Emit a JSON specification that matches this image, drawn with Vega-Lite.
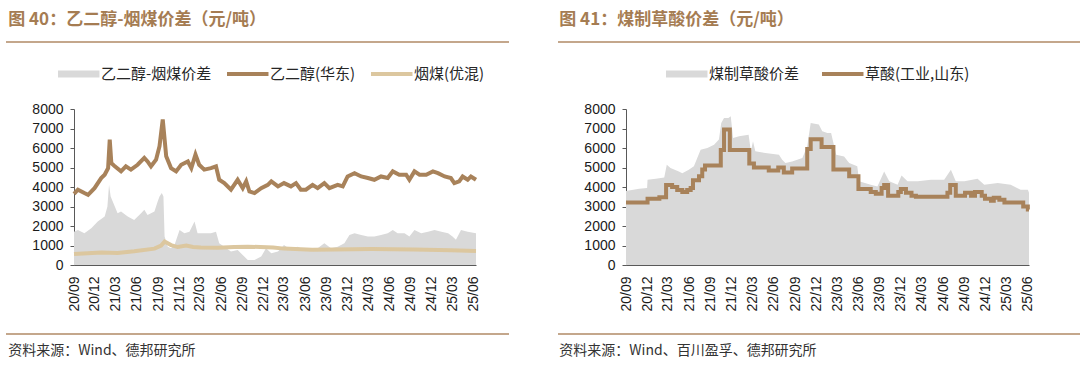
{
  "$schema": "https://vega.github.io/schema/vega-lite/v6.json",
  "padding": {"left": 5, "top": 11, "right": 0, "bottom": 0},
  "background": "white",
  "config": {
    "view": {"stroke": null},
    "font": "Noto Sans CJK SC",
    "axis": {"labelFont": "Liberation Sans", "labelFontSize": 14, "labelColor": "#1a1a1a", "domainColor": "#595959", "tickColor": "#595959", "grid": false, "title": null, "labelOverlap": false}
  },
  "resolve": {"scale": {"color": "independent"}, "legend": {"color": "independent"}},
  "datasets": {
    "linesL": [
      {"d": "2020-09-01", "v": 3650, "s": "乙二醇(华东)"},
      {"d": "2020-09-18", "v": 3860, "s": "乙二醇(华东)"},
      {"d": "2020-10-16", "v": 3690, "s": "乙二醇(华东)"},
      {"d": "2020-11-01", "v": 3600, "s": "乙二醇(华东)"},
      {"d": "2020-11-29", "v": 3940, "s": "乙二醇(华东)"},
      {"d": "2020-12-28", "v": 4460, "s": "乙二醇(华东)"},
      {"d": "2021-01-12", "v": 4630, "s": "乙二醇(华东)"},
      {"d": "2021-01-27", "v": 4970, "s": "乙二醇(华东)"},
      {"d": "2021-02-03", "v": 6430, "s": "乙二醇(华东)"},
      {"d": "2021-02-10", "v": 5230, "s": "乙二醇(华东)"},
      {"d": "2021-02-25", "v": 5060, "s": "乙二醇(华东)"},
      {"d": "2021-03-24", "v": 4800, "s": "乙二醇(华东)"},
      {"d": "2021-04-14", "v": 5060, "s": "乙二醇(华东)"},
      {"d": "2021-05-06", "v": 4890, "s": "乙二醇(华东)"},
      {"d": "2021-06-04", "v": 5140, "s": "乙二醇(华东)"},
      {"d": "2021-07-03", "v": 5490, "s": "乙二醇(华东)"},
      {"d": "2021-07-17", "v": 5310, "s": "乙二醇(华东)"},
      {"d": "2021-08-01", "v": 5060, "s": "乙二醇(华东)"},
      {"d": "2021-08-23", "v": 5400, "s": "乙二醇(华东)"},
      {"d": "2021-09-07", "v": 6090, "s": "乙二醇(华东)"},
      {"d": "2021-09-21", "v": 7460, "s": "乙二醇(华东)"},
      {"d": "2021-10-06", "v": 5570, "s": "乙二醇(华东)"},
      {"d": "2021-10-27", "v": 4970, "s": "乙二醇(华东)"},
      {"d": "2021-11-18", "v": 4800, "s": "乙二醇(华东)"},
      {"d": "2021-12-10", "v": 5140, "s": "乙二醇(华东)"},
      {"d": "2022-01-08", "v": 5310, "s": "乙二醇(华东)"},
      {"d": "2022-01-23", "v": 4970, "s": "乙二醇(华东)"},
      {"d": "2022-02-10", "v": 5660, "s": "乙二醇(华东)"},
      {"d": "2022-02-26", "v": 5140, "s": "乙二醇(华东)"},
      {"d": "2022-03-20", "v": 4890, "s": "乙二醇(华东)"},
      {"d": "2022-04-18", "v": 4970, "s": "乙二醇(华东)"},
      {"d": "2022-05-10", "v": 5060, "s": "乙二醇(华东)"},
      {"d": "2022-05-24", "v": 4370, "s": "乙二醇(华东)"},
      {"d": "2022-06-15", "v": 4200, "s": "乙二醇(华东)"},
      {"d": "2022-07-14", "v": 3860, "s": "乙二醇(华东)"},
      {"d": "2022-08-12", "v": 4370, "s": "乙二醇(华东)"},
      {"d": "2022-09-03", "v": 3940, "s": "乙二醇(华东)"},
      {"d": "2022-09-18", "v": 4290, "s": "乙二醇(华东)"},
      {"d": "2022-10-02", "v": 3770, "s": "乙二醇(华东)"},
      {"d": "2022-10-24", "v": 3690, "s": "乙二醇(华东)"},
      {"d": "2022-11-22", "v": 3940, "s": "乙二醇(华东)"},
      {"d": "2022-12-21", "v": 4110, "s": "乙二醇(华东)"},
      {"d": "2023-01-05", "v": 4290, "s": "乙二醇(华东)"},
      {"d": "2023-02-03", "v": 4030, "s": "乙二醇(华东)"},
      {"d": "2023-03-01", "v": 4200, "s": "乙二醇(华东)"},
      {"d": "2023-03-31", "v": 4030, "s": "乙二醇(华东)"},
      {"d": "2023-04-22", "v": 4200, "s": "乙二醇(华东)"},
      {"d": "2023-05-13", "v": 3860, "s": "乙二醇(华东)"},
      {"d": "2023-06-04", "v": 3860, "s": "乙二醇(华东)"},
      {"d": "2023-07-03", "v": 4110, "s": "乙二醇(华东)"},
      {"d": "2023-07-25", "v": 3940, "s": "乙二醇(华东)"},
      {"d": "2023-08-23", "v": 4200, "s": "乙二醇(华东)"},
      {"d": "2023-09-14", "v": 3940, "s": "乙二醇(华东)"},
      {"d": "2023-10-20", "v": 4110, "s": "乙二醇(华东)"},
      {"d": "2023-11-11", "v": 4030, "s": "乙二醇(华东)"},
      {"d": "2023-12-02", "v": 4540, "s": "乙二醇(华东)"},
      {"d": "2024-01-01", "v": 4710, "s": "乙二醇(华东)"},
      {"d": "2024-01-30", "v": 4540, "s": "乙二醇(华东)"},
      {"d": "2024-02-28", "v": 4460, "s": "乙二醇(华东)"},
      {"d": "2024-03-27", "v": 4370, "s": "乙二醇(华东)"},
      {"d": "2024-04-25", "v": 4540, "s": "乙二醇(华东)"},
      {"d": "2024-05-24", "v": 4460, "s": "乙二醇(华东)"},
      {"d": "2024-06-15", "v": 4800, "s": "乙二醇(华东)"},
      {"d": "2024-07-13", "v": 4630, "s": "乙二醇(华东)"},
      {"d": "2024-08-12", "v": 4630, "s": "乙二醇(华东)"},
      {"d": "2024-08-26", "v": 4370, "s": "乙二醇(华东)"},
      {"d": "2024-09-17", "v": 4800, "s": "乙二醇(华东)"},
      {"d": "2024-10-09", "v": 4630, "s": "乙二醇(华东)"},
      {"d": "2024-11-07", "v": 4630, "s": "乙二醇(华东)"},
      {"d": "2024-12-06", "v": 4800, "s": "乙二醇(华东)"},
      {"d": "2024-12-28", "v": 4710, "s": "乙二醇(华东)"},
      {"d": "2025-01-26", "v": 4540, "s": "乙二醇(华东)"},
      {"d": "2025-02-22", "v": 4460, "s": "乙二醇(华东)"},
      {"d": "2025-03-09", "v": 4200, "s": "乙二醇(华东)"},
      {"d": "2025-03-30", "v": 4290, "s": "乙二醇(华东)"},
      {"d": "2025-04-14", "v": 4540, "s": "乙二醇(华东)"},
      {"d": "2025-05-06", "v": 4370, "s": "乙二醇(华东)"},
      {"d": "2025-05-20", "v": 4540, "s": "乙二醇(华东)"},
      {"d": "2025-06-11", "v": 4370, "s": "乙二醇(华东)"},
      {"d": "2020-09-01", "v": 560, "s": "烟煤(优混)"},
      {"d": "2020-12-28", "v": 640, "s": "烟煤(优混)"},
      {"d": "2021-03-09", "v": 620, "s": "烟煤(优混)"},
      {"d": "2021-05-20", "v": 700, "s": "烟煤(优混)"},
      {"d": "2021-08-16", "v": 840, "s": "烟煤(优混)"},
      {"d": "2021-09-14", "v": 1000, "s": "烟煤(优混)"},
      {"d": "2021-09-29", "v": 1200, "s": "烟煤(优混)"},
      {"d": "2021-10-27", "v": 1020, "s": "烟煤(优混)"},
      {"d": "2021-11-25", "v": 920, "s": "烟煤(优混)"},
      {"d": "2022-01-01", "v": 1000, "s": "烟煤(优混)"},
      {"d": "2022-01-30", "v": 920, "s": "烟煤(优混)"},
      {"d": "2022-03-05", "v": 900, "s": "烟煤(优混)"},
      {"d": "2022-05-17", "v": 880, "s": "烟煤(优混)"},
      {"d": "2022-07-28", "v": 920, "s": "烟煤(优混)"},
      {"d": "2022-09-25", "v": 940, "s": "烟煤(优混)"},
      {"d": "2023-01-13", "v": 900, "s": "烟煤(优混)"},
      {"d": "2023-03-01", "v": 840, "s": "烟煤(优混)"},
      {"d": "2023-07-01", "v": 780, "s": "烟煤(优混)"},
      {"d": "2023-10-05", "v": 800, "s": "烟煤(优混)"},
      {"d": "2024-03-15", "v": 820, "s": "烟煤(优混)"},
      {"d": "2024-09-15", "v": 800, "s": "烟煤(优混)"},
      {"d": "2025-02-22", "v": 760, "s": "烟煤(优混)"},
      {"d": "2025-06-11", "v": 720, "s": "烟煤(优混)"}
    ],
    "spreadL": [
      {"d": "2020-09-01", "v": 1710, "s": "乙二醇-烟煤价差"},
      {"d": "2020-09-18", "v": 1800, "s": "乙二醇-烟煤价差"},
      {"d": "2020-10-16", "v": 1630, "s": "乙二醇-烟煤价差"},
      {"d": "2020-11-15", "v": 1890, "s": "乙二醇-烟煤价差"},
      {"d": "2020-12-13", "v": 2230, "s": "乙二醇-烟煤价差"},
      {"d": "2021-01-12", "v": 2490, "s": "乙二醇-烟煤价差"},
      {"d": "2021-01-24", "v": 3000, "s": "乙二醇-烟煤价差"},
      {"d": "2021-01-31", "v": 4110, "s": "乙二醇-烟煤价差"},
      {"d": "2021-02-07", "v": 3510, "s": "乙二醇-烟煤价差"},
      {"d": "2021-02-25", "v": 3000, "s": "乙二醇-烟煤价差"},
      {"d": "2021-03-09", "v": 2660, "s": "乙二醇-烟煤价差"},
      {"d": "2021-03-24", "v": 2740, "s": "乙二醇-烟煤价差"},
      {"d": "2021-04-22", "v": 2490, "s": "乙二醇-烟煤价差"},
      {"d": "2021-05-20", "v": 2310, "s": "乙二醇-烟煤价差"},
      {"d": "2021-06-19", "v": 2660, "s": "乙二醇-烟煤价差"},
      {"d": "2021-07-03", "v": 2830, "s": "乙二醇-烟煤价差"},
      {"d": "2021-07-17", "v": 2570, "s": "乙二醇-烟煤价差"},
      {"d": "2021-08-16", "v": 2740, "s": "乙二醇-烟煤价差"},
      {"d": "2021-08-30", "v": 3260, "s": "乙二醇-烟煤价差"},
      {"d": "2021-09-07", "v": 3510, "s": "乙二醇-烟煤价差"},
      {"d": "2021-09-17", "v": 3690, "s": "乙二醇-烟煤价差"},
      {"d": "2021-09-24", "v": 3510, "s": "乙二醇-烟煤价差"},
      {"d": "2021-09-29", "v": 1460, "s": "乙二醇-烟煤价差"},
      {"d": "2021-10-13", "v": 940, "s": "乙二醇-烟煤价差"},
      {"d": "2021-10-27", "v": 860, "s": "乙二醇-烟煤价差"},
      {"d": "2021-11-11", "v": 1030, "s": "乙二醇-烟煤价差"},
      {"d": "2021-12-03", "v": 1800, "s": "乙二醇-烟煤价差"},
      {"d": "2021-12-24", "v": 1630, "s": "乙二醇-烟煤价差"},
      {"d": "2022-01-15", "v": 1710, "s": "乙二醇-烟煤价差"},
      {"d": "2022-02-06", "v": 2230, "s": "乙二醇-烟煤价差"},
      {"d": "2022-02-19", "v": 1630, "s": "乙二醇-烟煤价差"},
      {"d": "2022-03-20", "v": 1630, "s": "乙二醇-烟煤价差"},
      {"d": "2022-04-18", "v": 1630, "s": "乙二醇-烟煤价差"},
      {"d": "2022-05-10", "v": 1710, "s": "乙二醇-烟煤价差"},
      {"d": "2022-05-24", "v": 1110, "s": "乙二醇-烟煤价差"},
      {"d": "2022-06-15", "v": 940, "s": "乙二醇-烟煤价差"},
      {"d": "2022-07-14", "v": 690, "s": "乙二醇-烟煤价差"},
      {"d": "2022-08-12", "v": 770, "s": "乙二醇-烟煤价差"},
      {"d": "2022-09-03", "v": 510, "s": "乙二醇-烟煤价差"},
      {"d": "2022-09-25", "v": 260, "s": "乙二醇-烟煤价差"},
      {"d": "2022-10-24", "v": 260, "s": "乙二醇-烟煤价差"},
      {"d": "2022-11-22", "v": 430, "s": "乙二醇-烟煤价差"},
      {"d": "2022-12-13", "v": 860, "s": "乙二醇-烟煤价差"},
      {"d": "2023-01-05", "v": 600, "s": "乙二醇-烟煤价差"},
      {"d": "2023-02-03", "v": 690, "s": "乙二醇-烟煤价差"},
      {"d": "2023-03-01", "v": 1030, "s": "乙二醇-烟煤价差"},
      {"d": "2023-03-31", "v": 770, "s": "乙二醇-烟煤价差"},
      {"d": "2023-04-29", "v": 940, "s": "乙二醇-烟煤价差"},
      {"d": "2023-05-27", "v": 770, "s": "乙二醇-烟煤价差"},
      {"d": "2023-06-26", "v": 770, "s": "乙二醇-烟煤价差"},
      {"d": "2023-07-25", "v": 860, "s": "乙二醇-烟煤价差"},
      {"d": "2023-08-23", "v": 1110, "s": "乙二醇-烟煤价差"},
      {"d": "2023-09-21", "v": 860, "s": "乙二醇-烟煤价差"},
      {"d": "2023-10-20", "v": 940, "s": "乙二醇-烟煤价差"},
      {"d": "2023-11-18", "v": 1110, "s": "乙二醇-烟煤价差"},
      {"d": "2023-12-10", "v": 1540, "s": "乙二醇-烟煤价差"},
      {"d": "2024-01-01", "v": 1630, "s": "乙二醇-烟煤价差"},
      {"d": "2024-01-30", "v": 1540, "s": "乙二醇-烟煤价差"},
      {"d": "2024-02-28", "v": 1460, "s": "乙二醇-烟煤价差"},
      {"d": "2024-03-27", "v": 1460, "s": "乙二醇-烟煤价差"},
      {"d": "2024-04-25", "v": 1540, "s": "乙二醇-烟煤价差"},
      {"d": "2024-05-24", "v": 1630, "s": "乙二醇-烟煤价差"},
      {"d": "2024-06-15", "v": 1800, "s": "乙二醇-烟煤价差"},
      {"d": "2024-07-06", "v": 1630, "s": "乙二醇-烟煤价差"},
      {"d": "2024-08-05", "v": 1630, "s": "乙二醇-烟煤价差"},
      {"d": "2024-08-26", "v": 1460, "s": "乙二醇-烟煤价差"},
      {"d": "2024-09-17", "v": 1800, "s": "乙二醇-烟煤价差"},
      {"d": "2024-10-16", "v": 1630, "s": "乙二醇-烟煤价差"},
      {"d": "2024-11-15", "v": 1710, "s": "乙二醇-烟煤价差"},
      {"d": "2024-12-13", "v": 1800, "s": "乙二醇-烟煤价差"},
      {"d": "2025-01-12", "v": 1710, "s": "乙二醇-烟煤价差"},
      {"d": "2025-02-10", "v": 1630, "s": "乙二醇-烟煤价差"},
      {"d": "2025-03-01", "v": 1460, "s": "乙二醇-烟煤价差"},
      {"d": "2025-03-16", "v": 1290, "s": "乙二醇-烟煤价差"},
      {"d": "2025-04-07", "v": 1800, "s": "乙二醇-烟煤价差"},
      {"d": "2025-05-06", "v": 1710, "s": "乙二醇-烟煤价差"},
      {"d": "2025-06-11", "v": 1630, "s": "乙二醇-烟煤价差"}
    ],
    "lineR": [
      {"d": "2020-09-01", "v": 3200, "s": "草酸(工业,山东)"},
      {"d": "2020-12-03", "v": 3400, "s": "草酸(工业,山东)"},
      {"d": "2021-01-23", "v": 3480, "s": "草酸(工业,山东)"},
      {"d": "2021-02-21", "v": 4100, "s": "草酸(工业,山东)"},
      {"d": "2021-03-19", "v": 4000, "s": "草酸(工业,山东)"},
      {"d": "2021-04-10", "v": 3850, "s": "草酸(工业,山东)"},
      {"d": "2021-05-02", "v": 3750, "s": "草酸(工业,山东)"},
      {"d": "2021-05-23", "v": 3850, "s": "草酸(工业,山东)"},
      {"d": "2021-06-07", "v": 3950, "s": "草酸(工业,山东)"},
      {"d": "2021-06-17", "v": 4350, "s": "草酸(工业,山东)"},
      {"d": "2021-07-13", "v": 4550, "s": "草酸(工业,山东)"},
      {"d": "2021-07-27", "v": 4900, "s": "草酸(工业,山东)"},
      {"d": "2021-08-08", "v": 5100, "s": "草酸(工业,山东)"},
      {"d": "2021-10-15", "v": 5900, "s": "草酸(工业,山东)"},
      {"d": "2021-10-29", "v": 6950, "s": "草酸(工业,山东)"},
      {"d": "2021-11-23", "v": 5900, "s": "草酸(工业,山东)"},
      {"d": "2022-02-15", "v": 5200, "s": "草酸(工业,山东)"},
      {"d": "2022-03-07", "v": 5000, "s": "草酸(工业,山东)"},
      {"d": "2022-05-10", "v": 4850, "s": "草酸(工业,山东)"},
      {"d": "2022-06-20", "v": 5000, "s": "草酸(工业,山东)"},
      {"d": "2022-07-14", "v": 4750, "s": "草酸(工业,山东)"},
      {"d": "2022-08-19", "v": 4950, "s": "草酸(工业,山东)"},
      {"d": "2022-10-23", "v": 5950, "s": "草酸(工业,山东)"},
      {"d": "2022-11-07", "v": 6450, "s": "草酸(工业,山东)"},
      {"d": "2022-12-24", "v": 6050, "s": "草酸(工业,山东)"},
      {"d": "2023-02-13", "v": 4900, "s": "草酸(工业,山东)"},
      {"d": "2023-04-22", "v": 4550, "s": "草酸(工业,山东)"},
      {"d": "2023-06-01", "v": 3900, "s": "草酸(工业,山东)"},
      {"d": "2023-07-24", "v": 3750, "s": "草酸(工业,山东)"},
      {"d": "2023-08-15", "v": 3650, "s": "草酸(工业,山东)"},
      {"d": "2023-09-09", "v": 3950, "s": "草酸(工业,山东)"},
      {"d": "2023-09-20", "v": 4100, "s": "草酸(工业,山东)"},
      {"d": "2023-10-07", "v": 3550, "s": "草酸(工业,山东)"},
      {"d": "2023-11-20", "v": 3750, "s": "草酸(工业,山东)"},
      {"d": "2023-12-01", "v": 3900, "s": "草酸(工业,山东)"},
      {"d": "2023-12-23", "v": 3700, "s": "草酸(工业,山东)"},
      {"d": "2024-01-16", "v": 3550, "s": "草酸(工业,山东)"},
      {"d": "2024-02-04", "v": 3500, "s": "草酸(工业,山东)"},
      {"d": "2024-06-19", "v": 3700, "s": "草酸(工业,山东)"},
      {"d": "2024-07-01", "v": 4100, "s": "草酸(工业,山东)"},
      {"d": "2024-07-25", "v": 3550, "s": "草酸(工业,山东)"},
      {"d": "2024-09-03", "v": 3700, "s": "草酸(工业,山东)"},
      {"d": "2024-09-29", "v": 3550, "s": "草酸(工业,山东)"},
      {"d": "2024-10-16", "v": 3750, "s": "草酸(工业,山东)"},
      {"d": "2024-11-14", "v": 3550, "s": "草酸(工业,山东)"},
      {"d": "2024-11-28", "v": 3400, "s": "草酸(工业,山东)"},
      {"d": "2024-12-24", "v": 3300, "s": "草酸(工业,山东)"},
      {"d": "2025-01-05", "v": 3450, "s": "草酸(工业,山东)"},
      {"d": "2025-01-29", "v": 3350, "s": "草酸(工业,山东)"},
      {"d": "2025-02-20", "v": 3200, "s": "草酸(工业,山东)"},
      {"d": "2025-05-12", "v": 3000, "s": "草酸(工业,山东)"},
      {"d": "2025-06-01", "v": 2850, "s": "草酸(工业,山东)"},
      {"d": "2025-06-06", "v": 2850, "s": "草酸(工业,山东)"}
    ],
    "spreadR": [
      {"d": "2020-09-01", "v": 3800, "s": "煤制草酸价差"},
      {"d": "2020-10-28", "v": 3910, "s": "煤制草酸价差"},
      {"d": "2020-12-01", "v": 3950, "s": "煤制草酸价差"},
      {"d": "2020-12-03", "v": 4370, "s": "煤制草酸价差"},
      {"d": "2021-01-08", "v": 4420, "s": "煤制草酸价差"},
      {"d": "2021-02-13", "v": 4490, "s": "煤制草酸价差"},
      {"d": "2021-02-24", "v": 5140, "s": "煤制草酸价差"},
      {"d": "2021-03-12", "v": 4970, "s": "煤制草酸价差"},
      {"d": "2021-04-17", "v": 4800, "s": "煤制草酸价差"},
      {"d": "2021-05-02", "v": 4710, "s": "煤制草酸价差"},
      {"d": "2021-05-30", "v": 4880, "s": "煤制草酸价差"},
      {"d": "2021-06-21", "v": 5060, "s": "煤制草酸价差"},
      {"d": "2021-07-20", "v": 5910, "s": "煤制草酸价差"},
      {"d": "2021-08-18", "v": 6000, "s": "煤制草酸价差"},
      {"d": "2021-09-16", "v": 6170, "s": "煤制草酸价差"},
      {"d": "2021-10-07", "v": 6430, "s": "煤制草酸价差"},
      {"d": "2021-10-17", "v": 7280, "s": "煤制草酸价差"},
      {"d": "2021-10-29", "v": 7540, "s": "煤制草酸价差"},
      {"d": "2021-11-17", "v": 7540, "s": "煤制草酸价差"},
      {"d": "2021-11-27", "v": 7630, "s": "煤制草酸价差"},
      {"d": "2021-12-07", "v": 6510, "s": "煤制草酸价差"},
      {"d": "2022-01-02", "v": 6600, "s": "煤制草酸价差"},
      {"d": "2022-02-12", "v": 6680, "s": "煤制草酸价差"},
      {"d": "2022-02-22", "v": 5830, "s": "煤制草酸价差"},
      {"d": "2022-03-03", "v": 6340, "s": "煤制草酸价差"},
      {"d": "2022-03-13", "v": 5830, "s": "煤制草酸价差"},
      {"d": "2022-04-26", "v": 5740, "s": "煤制草酸价差"},
      {"d": "2022-06-23", "v": 5660, "s": "煤制草酸价差"},
      {"d": "2022-07-07", "v": 5400, "s": "煤制草酸价差"},
      {"d": "2022-07-21", "v": 5230, "s": "煤制草酸价差"},
      {"d": "2022-08-19", "v": 5310, "s": "煤制草酸价差"},
      {"d": "2022-10-02", "v": 5490, "s": "煤制草酸价差"},
      {"d": "2022-10-23", "v": 6090, "s": "煤制草酸价差"},
      {"d": "2022-11-07", "v": 7280, "s": "煤制草酸价差"},
      {"d": "2022-12-12", "v": 7200, "s": "煤制草酸价差"},
      {"d": "2022-12-27", "v": 6860, "s": "煤制草酸价差"},
      {"d": "2023-01-18", "v": 6770, "s": "煤制草酸价差"},
      {"d": "2023-02-03", "v": 6770, "s": "煤制草酸价差"},
      {"d": "2023-02-25", "v": 5660, "s": "煤制草酸价差"},
      {"d": "2023-03-31", "v": 5570, "s": "煤制草酸价差"},
      {"d": "2023-04-22", "v": 5230, "s": "煤制草酸价差"},
      {"d": "2023-05-27", "v": 5060, "s": "煤制草酸价差"},
      {"d": "2023-06-04", "v": 4290, "s": "煤制草酸价差"},
      {"d": "2023-07-24", "v": 4110, "s": "煤制草酸价差"},
      {"d": "2023-08-22", "v": 4030, "s": "煤制草酸价差"},
      {"d": "2023-09-20", "v": 4800, "s": "煤制草酸价差"},
      {"d": "2023-10-12", "v": 4290, "s": "煤制草酸价差"},
      {"d": "2023-11-17", "v": 4110, "s": "煤制草酸价差"},
      {"d": "2023-12-04", "v": 4590, "s": "煤制草酸价差"},
      {"d": "2023-12-30", "v": 4290, "s": "煤制草酸价差"},
      {"d": "2024-02-12", "v": 4290, "s": "煤制草酸价差"},
      {"d": "2024-04-09", "v": 4370, "s": "煤制草酸价差"},
      {"d": "2024-06-05", "v": 4370, "s": "煤制草酸价差"},
      {"d": "2024-07-04", "v": 4880, "s": "煤制草酸价差"},
      {"d": "2024-07-25", "v": 4290, "s": "煤制草酸价差"},
      {"d": "2024-08-31", "v": 4290, "s": "煤制草酸价差"},
      {"d": "2024-10-27", "v": 4420, "s": "煤制草酸价差"},
      {"d": "2024-11-25", "v": 4110, "s": "煤制草酸价差"},
      {"d": "2025-01-22", "v": 4200, "s": "煤制草酸价差"},
      {"d": "2025-03-19", "v": 4110, "s": "煤制草酸价差"},
      {"d": "2025-05-01", "v": 3860, "s": "煤制草酸价差"},
      {"d": "2025-06-01", "v": 3860, "s": "煤制草酸价差"},
      {"d": "2025-06-06", "v": 3700, "s": "煤制草酸价差"}
    ]
  },
  "spacing": 47,
  "hconcat": [
    {
      "spacing": 10,
      "resolve": {"scale": {"color": "independent"}, "legend": {"color": "independent"}},
      "vconcat": [
        {
          "width": 402, "height": 12,
          "title": {"text": "图 40：乙二醇-烟煤价差（元/吨）", "anchor": "start", "fontSize": 17, "fontWeight": "bold", "color": "#a57c52", "offset": 12, "dx": 3, "font": "Noto Sans CJK SC"},
          "data": {"values": [{}]},
          "mark": {"type": "rule", "color": "#b08a66", "strokeWidth": 1.5},
          "encoding": {
            "x": {"datum": -0.1692, "type": "quantitative", "scale": {"domain": [0, 1]}, "axis": null},
            "x2": {"datum": 1.0821},
            "y": {"datum": 1, "type": "quantitative", "scale": {"domain": [0, 1]}, "axis": null}
          }
        },
        {
          "width": 402, "height": 156,
          "encoding": {
            "x": {"field": "d", "type": "temporal", "scale": {"type": "utc", "domain": [{"year": 2020, "month": 9, "date": 1, "utc": true}, {"year": 2025, "month": 6, "date": 11, "utc": true}]},
              "axis": {"values": [{"year": 2020, "month": 9, "date": 1, "utc": true}, {"year": 2020, "month": 12, "date": 1, "utc": true}, {"year": 2021, "month": 3, "date": 1, "utc": true}, {"year": 2021, "month": 6, "date": 1, "utc": true}, {"year": 2021, "month": 9, "date": 1, "utc": true}, {"year": 2021, "month": 12, "date": 1, "utc": true}, {"year": 2022, "month": 3, "date": 1, "utc": true}, {"year": 2022, "month": 6, "date": 1, "utc": true}, {"year": 2022, "month": 9, "date": 1, "utc": true}, {"year": 2022, "month": 12, "date": 1, "utc": true}, {"year": 2023, "month": 3, "date": 1, "utc": true}, {"year": 2023, "month": 6, "date": 1, "utc": true}, {"year": 2023, "month": 9, "date": 1, "utc": true}, {"year": 2023, "month": 12, "date": 1, "utc": true}, {"year": 2024, "month": 3, "date": 1, "utc": true}, {"year": 2024, "month": 6, "date": 1, "utc": true}, {"year": 2024, "month": 9, "date": 1, "utc": true}, {"year": 2024, "month": 12, "date": 1, "utc": true}, {"year": 2025, "month": 3, "date": 1, "utc": true}, {"year": 2025, "month": 6, "date": 1, "utc": true}],
                "format": "%y/%m", "labelAngle": -90, "tickSize": -4, "labelPadding": 15, "labelOverlap": false, "labelSeparation": 0}},
            "y": {"field": "v", "type": "quantitative", "scale": {"domain": [0, 8000]}, "axis": {"values": [0, 1000, 2000, 3000, 4000, 5000, 6000, 7000, 8000], "format": "d", "tickSize": 4, "labelPadding": 7, "minExtent": 64, "labelOverlap": false, "labelSeparation": 0}}
          },
          "layer": [
            {
              "data": {"name": "spreadL"},
              "mark": {"type": "area", "opacity": 1},
              "encoding": {
                "color": {"field": "s", "type": "nominal",
                  "scale": {"domain": ["乙二醇-烟煤价差", "乙二醇(华东)", "烟煤(优混)"], "range": ["#d9d9d9", "#a8825a", "#dcc79f"]},
                  "legend": {"orient": "none", "legendX": -16, "legendY": -45, "direction": "horizontal", "title": null, "symbolType": "stroke", "symbolSize": 2700, "symbolStrokeWidth": 4, "symbolOpacity": 1, "clipHeight": 20, "symbolOffset": 8, "labelFontSize": 15, "labelColor": "#262626", "labelFont": "Noto Sans CJK SC", "columnPadding": 15, "labelOffset": 20,
                    "encode": {"symbols": {"update": {"strokeWidth": {"signal": "datum.value === '乙二醇-烟煤价差' ? 7 : 4"}}}}}
                }
              }
            },
            {
              "data": {"name": "linesL"},
              "mark": {"type": "line", "strokeWidth": 4},
              "encoding": {
                "color": {"field": "s", "type": "nominal"}
              }
            }
          ]
        },
        {
          "width": 402, "height": 12,
          "title": {"text": "资料来源：Wind、德邦研究所", "orient": "bottom", "anchor": "start", "fontSize": 14, "fontWeight": "normal", "color": "#333333", "offset": 9, "dx": 3, "font": "Noto Sans CJK SC"},
          "data": {"values": [{}]},
          "mark": {"type": "rule", "color": "#b08a66", "strokeWidth": 1.5},
          "encoding": {
            "x": {"datum": -0.1692, "type": "quantitative", "scale": {"domain": [0, 1]}, "axis": null},
            "x2": {"datum": 1.0821},
            "y": {"datum": 0, "type": "quantitative", "scale": {"domain": [0, 1]}, "axis": null}
          }
        }
      ]
    },
    {
      "spacing": 10,
      "resolve": {"scale": {"color": "independent"}, "legend": {"color": "independent"}},
      "vconcat": [
        {
          "width": 403, "height": 12,
          "title": {"text": "图 41：煤制草酸价差（元/吨）", "anchor": "start", "fontSize": 17, "fontWeight": "bold", "color": "#a57c52", "offset": 12, "dx": 2, "font": "Noto Sans CJK SC"},
          "data": {"values": [{}]},
          "mark": {"type": "rule", "color": "#b08a66", "strokeWidth": 1.5},
          "encoding": {
            "x": {"datum": -0.1687, "type": "quantitative", "scale": {"domain": [0, 1]}, "axis": null},
            "x2": {"datum": 1.1315},
            "y": {"datum": 1, "type": "quantitative", "scale": {"domain": [0, 1]}, "axis": null}
          }
        },
        {
          "width": 403, "height": 156,
          "encoding": {
            "x": {"field": "d", "type": "temporal", "scale": {"type": "utc", "domain": [{"year": 2020, "month": 9, "date": 1, "utc": true}, {"year": 2025, "month": 6, "date": 6, "utc": true}]},
              "axis": {"values": [{"year": 2020, "month": 9, "date": 1, "utc": true}, {"year": 2020, "month": 12, "date": 1, "utc": true}, {"year": 2021, "month": 3, "date": 1, "utc": true}, {"year": 2021, "month": 6, "date": 1, "utc": true}, {"year": 2021, "month": 9, "date": 1, "utc": true}, {"year": 2021, "month": 12, "date": 1, "utc": true}, {"year": 2022, "month": 3, "date": 1, "utc": true}, {"year": 2022, "month": 6, "date": 1, "utc": true}, {"year": 2022, "month": 9, "date": 1, "utc": true}, {"year": 2022, "month": 12, "date": 1, "utc": true}, {"year": 2023, "month": 3, "date": 1, "utc": true}, {"year": 2023, "month": 6, "date": 1, "utc": true}, {"year": 2023, "month": 9, "date": 1, "utc": true}, {"year": 2023, "month": 12, "date": 1, "utc": true}, {"year": 2024, "month": 3, "date": 1, "utc": true}, {"year": 2024, "month": 6, "date": 1, "utc": true}, {"year": 2024, "month": 9, "date": 1, "utc": true}, {"year": 2024, "month": 12, "date": 1, "utc": true}, {"year": 2025, "month": 3, "date": 1, "utc": true}, {"year": 2025, "month": 6, "date": 1, "utc": true}],
                "format": "%y/%m", "labelAngle": -90, "tickSize": -4, "labelPadding": 15, "labelOverlap": false, "labelSeparation": 0}},
            "y": {"field": "v", "type": "quantitative", "scale": {"domain": [0, 8000]}, "axis": {"values": [0, 1000, 2000, 3000, 4000, 5000, 6000, 7000, 8000], "format": "d", "tickSize": 4, "labelPadding": 7, "minExtent": 65, "labelOverlap": false, "labelSeparation": 0}}
          },
          "layer": [
            {
              "data": {"name": "spreadR"},
              "mark": {"type": "area", "opacity": 1},
              "encoding": {
                "color": {"field": "s", "type": "nominal",
                  "scale": {"domain": ["煤制草酸价差", "草酸(工业,山东)"], "range": ["#d9d9d9", "#a8825a"]},
                  "legend": {"orient": "none", "legendX": 40, "legendY": -45, "direction": "horizontal", "title": null, "symbolType": "stroke", "symbolSize": 2700, "symbolStrokeWidth": 4, "symbolOpacity": 1, "clipHeight": 20, "symbolOffset": 8, "labelFontSize": 15, "labelColor": "#262626", "labelFont": "Noto Sans CJK SC", "columnPadding": 22, "labelOffset": 20,
                    "encode": {"symbols": {"update": {"strokeWidth": {"signal": "datum.value === '煤制草酸价差' ? 7 : 4"}}}}}
                }
              }
            },
            {
              "data": {"name": "lineR"},
              "mark": {"type": "line", "strokeWidth": 4, "interpolate": "step-after"},
              "encoding": {
                "color": {"field": "s", "type": "nominal"}
              }
            }
          ]
        },
        {
          "width": 403, "height": 12,
          "title": {"text": "资料来源：Wind、百川盈孚、德邦研究所", "orient": "bottom", "anchor": "start", "fontSize": 14, "fontWeight": "normal", "color": "#333333", "offset": 9, "dx": 2, "font": "Noto Sans CJK SC"},
          "data": {"values": [{}]},
          "mark": {"type": "rule", "color": "#b08a66", "strokeWidth": 1.5},
          "encoding": {
            "x": {"datum": -0.1687, "type": "quantitative", "scale": {"domain": [0, 1]}, "axis": null},
            "x2": {"datum": 1.1315},
            "y": {"datum": 0, "type": "quantitative", "scale": {"domain": [0, 1]}, "axis": null}
          }
        }
      ]
    }
  ]
}
